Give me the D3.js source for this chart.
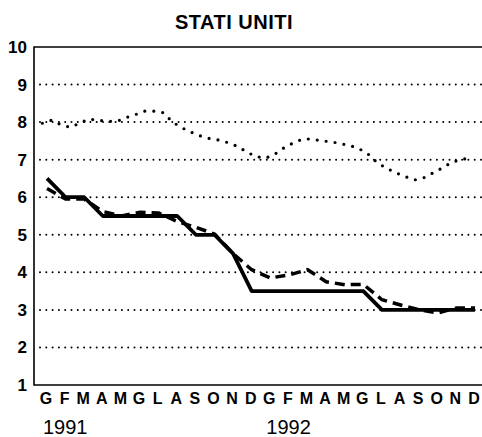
<!DOCTYPE html>
<html>
<head>
<meta charset="utf-8">
<script src="https://cdn.jsdelivr.net/npm/d3@7"></script>
<style>
  body { margin: 0; background: #fff; }
  svg { font-family: "Liberation Sans", Arial, sans-serif; }
</style>
</head>
<body>
<div class="chart"></div>
<script>
// month labels (Italian initials), two years
var months = ["G","F","M","A","M","G","L","A","S","O","N","D",
              "G","F","M","A","M","G","L","A","S","O","N","D"];
var years = ["1991", "1992"];
var yTicks = [1, 2, 3, 4, 5, 6, 7, 8, 9, 10];

// solid line: official rate, monthly
var officialRate = [6.5, 6.0, 6.0, 5.5, 5.5, 5.5, 5.5, 5.5, 5.0, 5.0, 4.5, 3.5,
                    3.5, 3.5, 3.5, 3.5, 3.5, 3.5, 3.0, 3.0, 3.0, 3.0, 3.0, 3.0];
// dashed line: short term rate, monthly
var shortRate = [6.23, 5.95, 5.95, 5.62, 5.5, 5.6, 5.58, 5.35, 5.2, 5.02, 4.5, 4.07,
                 3.85, 3.93, 4.07, 3.75, 3.67, 3.68, 3.27, 3.13, 3.0, 2.92, 3.05, 3.05];
// dotted line: long term rate, half-month readings
var longRate = [7.97, 8.05, 7.93, 7.86, 7.97, 8.08, 8.05, 8.02, 8.02, 8.12,
                8.2, 8.29, 8.29, 8.25, 8.0, 7.85, 7.73, 7.63, 7.56, 7.52,
                7.45, 7.35, 7.2, 7.08, 7.04, 7.15, 7.32, 7.45, 7.55, 7.55,
                7.5, 7.48, 7.43, 7.38, 7.3, 7.15, 6.92, 6.77, 6.65, 6.55,
                6.46, 6.52, 6.65, 6.78, 6.93, 7.0, 7.05];

var svgWidth = 482;
var svgHeight = 437;

var svg = d3.select(".chart")
  .append("svg")
  .attr("width", svgWidth)
  .attr("height", svgHeight);

var plotLeft = 34, plotRight = 482, plotTop = 47, plotBottom = 385;

var xScale = d3.scaleLinear()
  .domain([0, 23])
  .range([47, 475]);

var yScale = d3.scaleLinear()
  .domain([1, 10])
  .range([plotBottom, plotTop]);

// title
svg.append("text")
  .attr("x", 234)
  .attr("y", 29)
  .attr("text-anchor", "middle")
  .attr("font-size", 20)
  .attr("font-weight", "bold")
  .attr("letter-spacing", 0.5)
  .text("STATI UNITI");

// dotted gridlines
svg.append("g")
  .selectAll("line")
  .data(yTicks.filter(d => d > 1 && d < 10))
  .enter()
  .append("line")
  .attr("x1", 40)
  .attr("x2", plotRight)
  .attr("y1", d => yScale(d))
  .attr("y2", d => yScale(d))
  .attr("stroke", "#000")
  .attr("stroke-width", 2)
  .attr("stroke-linecap", "round")
  .attr("stroke-dasharray", "0 6.3");

// frame: left, bottom, top
svg.append("path")
  .attr("d", `M${plotRight},${plotTop}H${plotLeft}V${plotBottom}H${plotRight}`)
  .attr("fill", "none")
  .attr("stroke", "#000")
  .attr("stroke-width", 1.6);

// y axis labels
svg.append("g")
  .selectAll("text")
  .data(yTicks)
  .enter()
  .append("text")
  .attr("x", 27)
  .attr("y", d => yScale(d) + 6)
  .attr("text-anchor", "end")
  .attr("font-size", 17)
  .attr("font-weight", "bold")
  .text(d => d);

// month labels
svg.append("g")
  .selectAll("text")
  .data(months)
  .enter()
  .append("text")
  .attr("x", (d, i) => xScale(i) - 1)
  .attr("y", 404)
  .attr("text-anchor", "middle")
  .attr("font-size", 16)
  .attr("font-weight", "bold")
  .text(d => d);

// year labels
svg.append("g")
  .selectAll("text")
  .data(years)
  .enter()
  .append("text")
  .attr("x", (d, i) => xScale(i * 12) - 4)
  .attr("y", 434)
  .attr("font-size", 20)
  .text(d => d);

// dotted long term line (half-month points)
var longLine = d3.line()
  .x((d, i) => xScale(-0.25 + i * 0.5))
  .y(d => yScale(d));

svg.append("path")
  .datum(longRate)
  .attr("d", longLine)
  .attr("fill", "none")
  .attr("stroke", "#000")
  .attr("stroke-width", 3.2)
  .attr("stroke-linecap", "round")
  .attr("stroke-dasharray", "0 9");

var monthLine = d3.line()
  .x((d, i) => xScale(i))
  .y(d => yScale(d));

// dashed short term line
svg.append("path")
  .datum(shortRate)
  .attr("d", monthLine)
  .attr("fill", "none")
  .attr("stroke", "#000")
  .attr("stroke-width", 3.5)
  .attr("stroke-dasharray", "10 6");

// solid official rate
svg.append("path")
  .datum(officialRate)
  .attr("d", monthLine)
  .attr("fill", "none")
  .attr("stroke", "#000")
  .attr("stroke-width", 3.8)
  .attr("stroke-linejoin", "round");
</script>
</body>
</html>
